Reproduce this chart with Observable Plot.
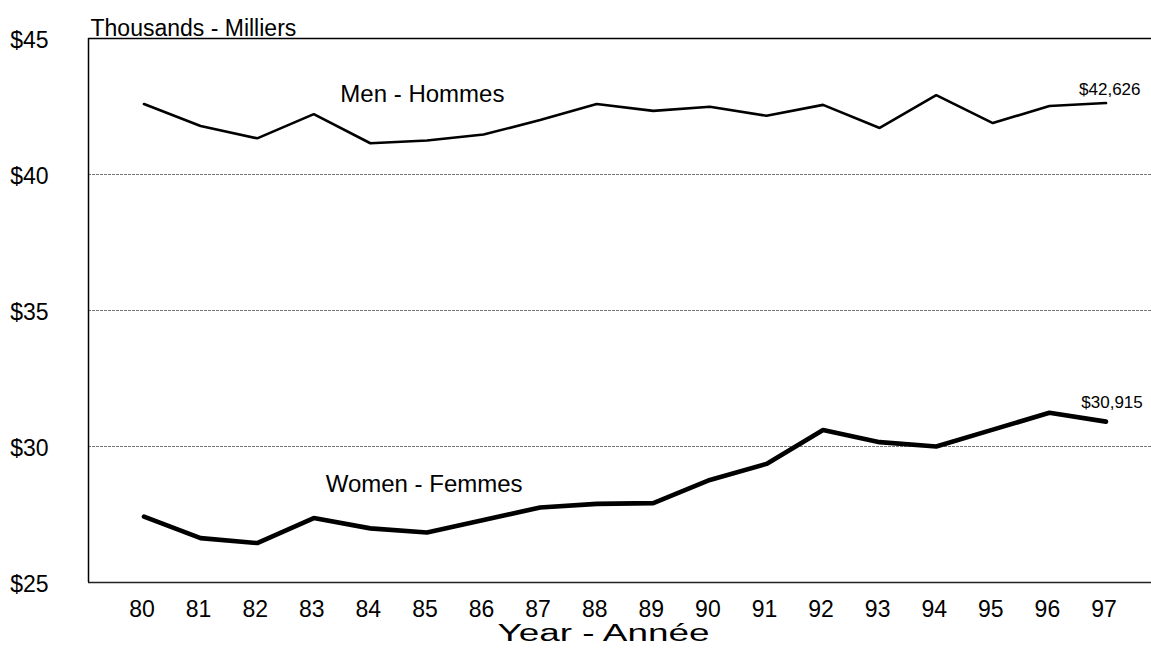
<!DOCTYPE html>
<html><head><meta charset="utf-8">
<script src="https://cdn.jsdelivr.net/npm/d3@7"></script>
<script src="https://cdn.jsdelivr.net/npm/@observablehq/plot@0.6"></script>
<style>body{margin:0;background:#fff;} svg{display:block;}</style>
</head><body>
<script>
const years = [80,81,82,83,84,85,86,87,88,89,90,91,92,93,94,95,96,97];
const men = [42.59,41.78,41.33,42.22,41.15,41.25,41.47,42.00,42.59,42.34,42.49,42.16,42.56,41.71,42.92,41.89,42.52,42.626];
const women = [27.42,26.63,26.45,27.37,26.99,26.84,27.30,27.76,27.89,27.92,28.77,29.36,30.61,30.16,30.00,30.62,31.24,30.915];
const yTicks = [25,30,35,40,45];
const gridValues = [30,35,40];
const seriesNames = ["Men - Hommes","Women - Femmes"];
const lastLabels = ["$42,626","$30,915"];
const title = "Thousands - Milliers";
const xTitle = "Year - Année";

const menData = years.map((y,i)=>({year:y,value:men[i]}));
const womenData = years.map((y,i)=>({year:y,value:women[i]}));
const xMin = 79.019, xMax = 97.804;

const chart = Plot.plot({
  width:1151, height:651,
  marginLeft:88, marginRight:0, marginTop:38, marginBottom:69,
  style:{fontFamily:"'Liberation Sans', Arial, sans-serif", fontSize:"23px", background:"#fff", color:"#000", overflow:"visible"},
  x:{domain:[xMin,xMax], ticks:years, tickFormat:d=>String(d), tickSize:0, tickPadding:18, label:null},
  y:{domain:[25,45], ticks:yTicks, tickFormat:d=>"$"+d, tickSize:0, tickPadding:40, label:null},
  marks:[
    Plot.ruleY(gridValues,{stroke:"#777", strokeDasharray:"3,1", strokeWidth:1}),
    Plot.ruleY([45],{stroke:"#000", strokeWidth:1.5}),
    Plot.ruleY([25],{stroke:"#222", strokeWidth:1.3}),
    Plot.ruleX([xMin],{stroke:"#000", strokeWidth:1.5}),
    Plot.line(menData,{x:"year", y:"value", stroke:"#000", strokeWidth:2.6, strokeLinejoin:"miter"}),
    Plot.line(womenData,{x:"year", y:"value", stroke:"#000", strokeWidth:4.6, strokeLinejoin:"miter"}),
    Plot.text([seriesNames[0]],{x:()=>83.47, y:()=>42.94, text:d=>d, textAnchor:"start", fontSize:24}),
    Plot.text([seriesNames[1]],{x:()=>83.21, y:()=>28.62, text:d=>d, textAnchor:"start", fontSize:24}),
    Plot.text([lastLabels[0]],{x:()=>97.61, y:()=>43.14, text:d=>d, textAnchor:"end", fontSize:17}),
    Plot.text([lastLabels[1]],{x:()=>97.65, y:()=>31.61, text:d=>d, textAnchor:"end", fontSize:17}),
    Plot.text([title],{frameAnchor:"top-left", text:d=>d, dx:2, dy:-18.7, textAnchor:"start", fontSize:23}),
    Plot.text([xTitle],{frameAnchor:"bottom", text:d=>d, dx:-16.5, dy:58.6, fontSize:23})
  ]
});
document.body.append(chart);
// tick label fine offsets to match the original placement
const svg = d3.select(chart);
svg.selectAll("g[aria-label='x-axis tick label']").attr("transform", function(){
  return (this.getAttribute("transform") || "") + " translate(-2,0)";
});
svg.selectAll("g[aria-label='y-axis tick label']").attr("transform", function(){
  return (this.getAttribute("transform") || "") + " translate(0,2)";
});
// the original's axis title uses a wide face: stretch glyphs to its width
svg.selectAll("text").filter(function(){ return this.textContent === xTitle; })
  .attr("textLength", 212).attr("lengthAdjust", "spacingAndGlyphs");
</script>
</body></html>
